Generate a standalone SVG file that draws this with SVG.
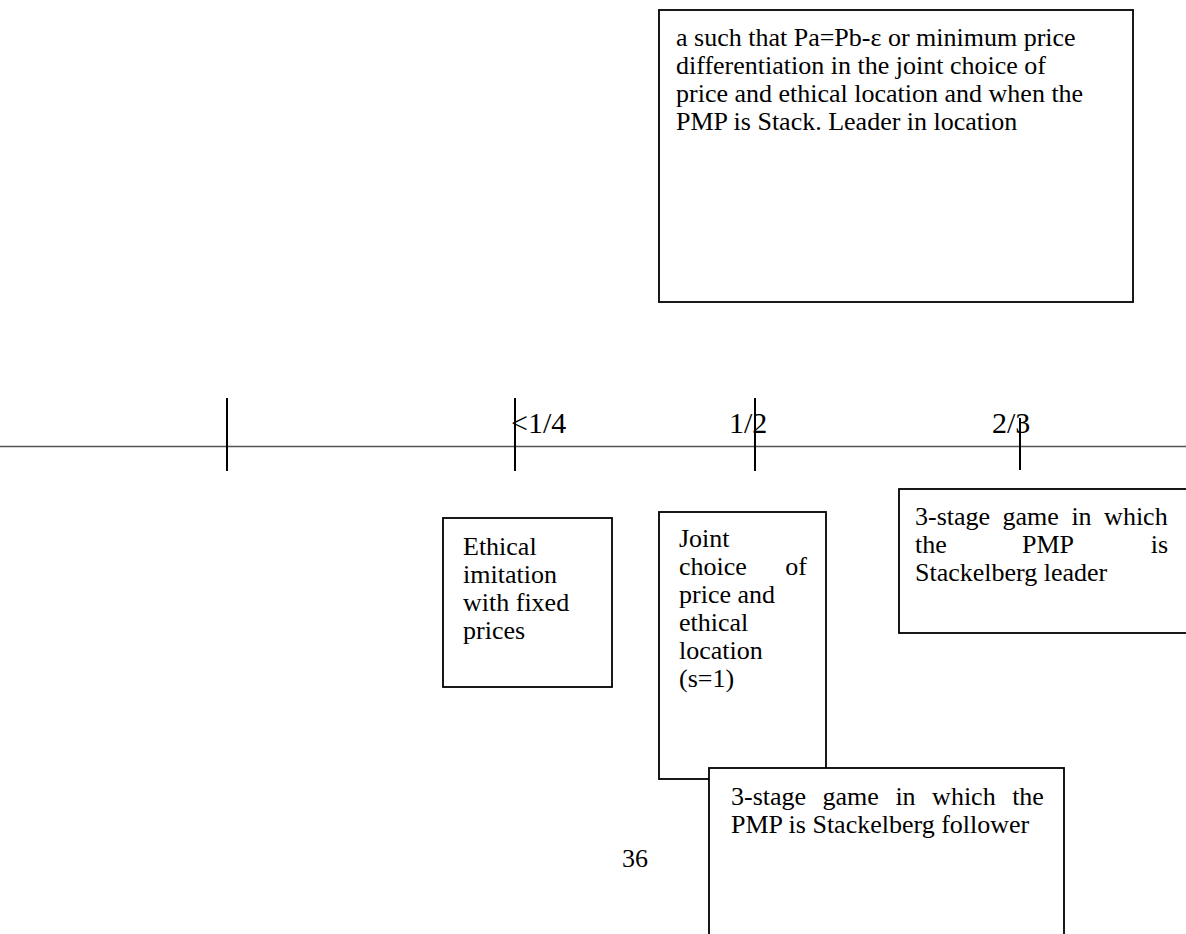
<svg xmlns="http://www.w3.org/2000/svg" width="1186" height="934" viewBox="0 0 1186 934">
<style>
text{font-family:"Liberation Serif","Times New Roman",serif;font-size:26px;fill:#000}
.lbl{font-size:30px}
.box{fill:#fff;stroke:#000;stroke-width:1.8}
.tick{stroke:#000;stroke-width:2}
.axis{stroke:#555;stroke-width:1.4}
</style>
<rect width="1186" height="934" fill="#fff"/>
<g id="connectors">
<line class="axis" x1="0" y1="446.5" x2="1186" y2="446.5"/>
<line class="tick" x1="227" y1="398" x2="227" y2="471"/>
<line class="tick" x1="515" y1="398" x2="515" y2="471"/>
<line class="tick" x1="755" y1="398" x2="755" y2="471"/>
<line class="tick" x1="1020" y1="418" x2="1020" y2="470"/>
</g>
<g id="labels">
<text class="lbl" x="511" y="433">&lt;1/4</text>
<text class="lbl" x="729" y="433">1/2</text>
<text class="lbl" x="992" y="433">2/3</text>
<text x="622" y="867">36</text>
</g>
<g id="top-box">
<rect class="box" x="659" y="10" width="474" height="292"/>
<text x="676" y="46">a such that Pa=Pb-ε or minimum price</text>
<text x="676" y="74">differentiation in the joint choice of</text>
<text x="676" y="102">price and ethical location and when the</text>
<text x="676" y="130">PMP is Stack. Leader in location</text>
</g>
<g id="ethical-box">
<rect class="box" x="443" y="518" width="169" height="169"/>
<text x="463" y="555">Ethical</text>
<text x="463" y="583">imitation</text>
<text x="463" y="611">with fixed</text>
<text x="463" y="639">prices</text>
</g>
<g id="joint-box">
<rect class="box" x="659" y="512" width="167" height="267"/>
<text x="679" y="547">Joint</text>
<text x="679" y="575">choice</text>
<text x="807" y="575" text-anchor="end">of</text>
<text x="679" y="603">price and</text>
<text x="679" y="631">ethical</text>
<text x="679" y="659">location</text>
<text x="679" y="687">(s=1)</text>
</g>
<g id="leader-box">
<rect class="box" x="899" y="489" width="300" height="144"/>
<text x="915" y="525" word-spacing="6">3-stage game in which</text>
<text x="915" y="553">the</text>
<text x="1022" y="553">PMP</text>
<text x="1168" y="553" text-anchor="end">is</text>
<text x="915" y="581">Stackelberg leader</text>
</g>
<g id="follower-box">
<rect class="box" x="709" y="768" width="355" height="180"/>
<text x="731" y="805" word-spacing="10">3-stage game in which the</text>
<text x="731" y="833">PMP is Stackelberg follower</text>
</g>
</svg>
